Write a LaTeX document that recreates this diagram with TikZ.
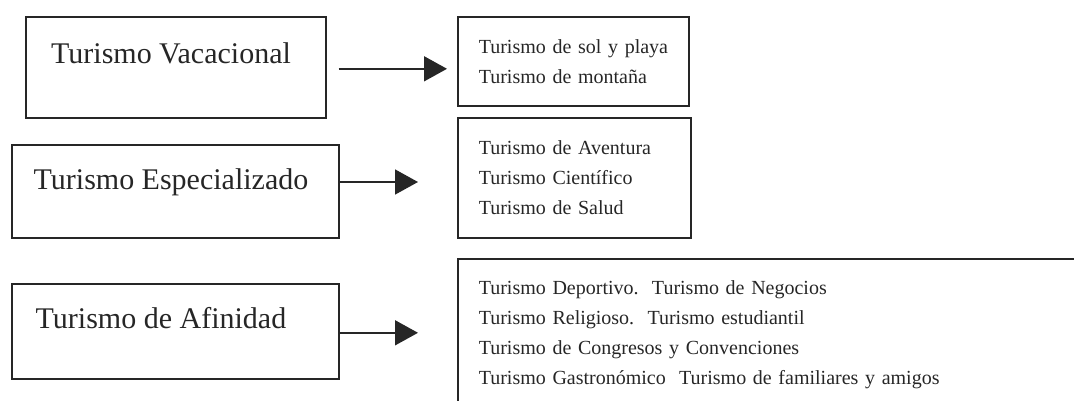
\documentclass[tikz,border=0pt]{standalone}
\usepackage{fontspec}
\setmainfont{Liberation Serif}
\usetikzlibrary{arrows.meta,
                positioning}

\begin{document}
\begin{tikzpicture}[x=1pt, y=-1pt, line width=1.6pt, color={black!85},
    box/.style = {draw, rectangle, anchor=north west, inner sep=0pt},
    lbl/.style = {inner sep=0pt, font=\fontsize{30}{34}\selectfont},
    sub/.style = {draw, rectangle, anchor=north west, align=left, inner xsep=21pt, inner ysep=0pt, font=\fontsize{20}{30}\selectfont},
    arr/.style = {-{Triangle[length=23pt, width=25pt]}}]

\useasboundingbox (0,0) rectangle (1074,400);
\clip (0,0) rectangle (1074,400);

% left column
\node[box, minimum width=300pt, minimum height=101pt] (vac) at (25,16) {};
\node[box, minimum width=327pt, minimum height=93pt] (esp) at (11,144) {};
\node[box, minimum width=327pt, minimum height=95pt] (afi) at (11,283) {};

\node[lbl] (vac-t) at (171,53) {Turismo Vacacional};
\node[lbl] (esp-t) at (171,182) {Turismo Especializado};
\node[lbl] (afi-t) at (161,318) {Turismo de Afinidad};

% right column
\node[sub, text width=189pt, minimum height=89pt] (sol) at (457,16)
    {\mbox{Turismo de sol y playa}\\Turismo de montaña};
\node[sub, text width=191pt, minimum height=120pt] (cie) at (457,117)
    {Turismo de Aventura\\Turismo Científico\\Turismo de Salud};
\node[sub, text width=598pt, minimum height=152pt] (neg) at (457,258)
    {Turismo Deportivo.\ \ Turismo de Negocios\\
     Turismo Religioso.\ \ Turismo estudiantil\\
     Turismo de Congresos y Convenciones\\
     Turismo Gastronómico\ \ Turismo de familiares y amigos};

%\draw[arr] (vac) -- (sol);
\draw[arr, shorten <=12pt, shorten >=10pt] ([yshift=-1.5pt]vac.east) -- ([yshift=-1.5pt]vac.east -| sol.west);
\draw[arr, shorten >=39pt] (esp.east |- esp-t) -- (esp-t -| cie.west);
\draw[arr, shorten >=39pt] ([yshift=-1.5pt]afi.east) -- ([yshift=-1.5pt]afi.east -| neg.west);

\end{tikzpicture}
\end{document}
